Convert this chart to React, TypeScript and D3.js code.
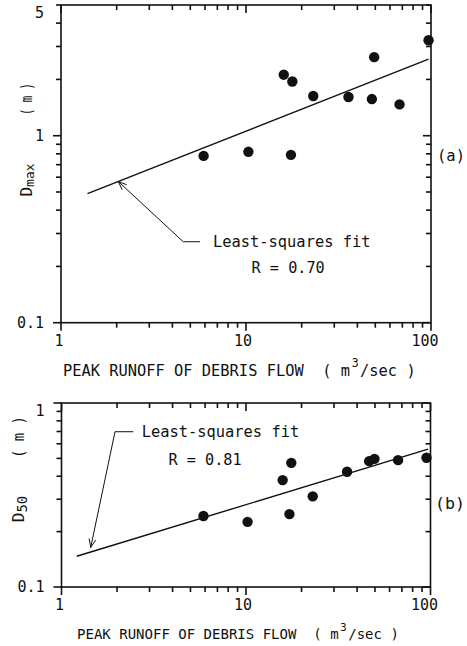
import React from 'react';
import * as d3 from 'd3';

// ---- data ----
const flowA = [5.9, 10.3, 16.0, 17.8, 17.5, 23.1, 35.8, 49.3, 47.9, 67.6, 97];
const dmax = [0.78, 0.82, 2.12, 1.95, 0.79, 1.63, 1.61, 2.63, 1.57, 1.47, 3.24];
const flowB = [5.88, 10.2, 15.8, 17.6, 17.2, 23.0, 35.3, 46.5, 49.7, 66.7, 95.1];
const d50 = [0.243, 0.226, 0.381, 0.473, 0.249, 0.311, 0.423, 0.483, 0.497, 0.489, 0.504];

const fitAx = [1.39, 97];
const fitAy = [0.49, 2.57];
const fitBx = [1.21, 97];
const fitBy = [0.147, 0.561];

const xTickVals = [1, 10, 100];
const xTickLabels = ['1', '10', '100'];
const yTickValsA = [0.1, 1, 5];
const yTickLabelsA = ['0.1', '1', '5'];
const yTickValsB = [0.1, 1];
const yTickLabelsB = ['0.1', '1'];

const titleMain = 'PEAK RUNOFF OF DEBRIS FLOW  ( m';
const titleSup = '3';
const titleTail = '/sec )';

const FONT = '"DejaVu Sans Mono", "Liberation Mono", monospace';
const ADV = 0.602; // DejaVu Sans Mono advance width per em
const INK = '#111';

type Ann = {
  head: [number, number];
  elbow: [number, number];
  end: [number, number];
  text: [number, number];
  r: [number, number];
  rText: string;
};

type PanelProps = {
  xs: d3.ScaleLogarithmic<number, number>;
  ys: d3.ScaleLogarithmic<number, number>;
  xv: number[];
  yv: number[];
  fx: number[];
  fy: number[];
  ann: Ann;
  yTicks: number[];
  yTickLabels: string[];
  xLabelY: number;
  titleY: number;
  titleX: number;
  titleW: number;
  tag: string;
  tagX: number;
  tagY: number;
  tagW: number;
  ylab: React.ReactNode;
};

function Panel(p: PanelProps) {
  const { xs, ys } = p;
  const [x0, x1] = xs.range();
  const [y0, y1] = ys.range(); // y0 bottom, y1 top
  const xt = xs.ticks();
  const yt = ys.ticks();
  const isMajor = (v: number) => Math.abs(Math.log10(v) - Math.round(Math.log10(v))) < 1e-6;
  const line = d3.line<number>().x((_, i) => xs(p.fx[i])).y((_, i) => ys(p.fy[i]));

  const hx = xs(p.ann.head[0]), hy = ys(p.ann.head[1]);
  const ex = xs(p.ann.elbow[0]), ey = ys(p.ann.elbow[1]);
  const nx = xs(p.ann.end[0]), ny = ys(p.ann.end[1]);
  const ang = Math.atan2(ey - hy, ex - hx);
  const aL = 9, aA = 0.38;
  const a1 = [hx + aL * Math.cos(ang + aA), hy + aL * Math.sin(ang + aA)];
  const a2 = [hx + aL * Math.cos(ang - aA), hy + aL * Math.sin(ang - aA)];

  // title split into three pieces so the superscript sits between them
  const nChars = titleMain.length + titleSup.length + titleTail.length;
  const cw = p.titleW / nChars;
  const fsT = cw / ADV;
  const fsS = fsT * 0.75;
  const gap = 1.5;
  const wMain = titleMain.length * cw;
  const wSup = fsS * ADV;

  return (
    <g>
      {/* frame */}
      <rect x={x0} y={y1} width={x1 - x0} height={y0 - y1} fill="none" stroke={INK} strokeWidth={1.6} />
      {/* x ticks: bottom outward, top inward */}
      {xt.map((v, i) => {
        const L = isMajor(v) ? 8 : 5;
        const x = xs(v);
        return (
          <g key={'xt' + i}>
            <line x1={x} x2={x} y1={y0} y2={y0 + L} stroke={INK} strokeWidth={1.6} />
            <line x1={x} x2={x} y1={y1} y2={y1 + L} stroke={INK} strokeWidth={1.6} />
          </g>
        );
      })}
      {/* y ticks: left outward, right inward */}
      {yt.map((v, i) => {
        const L = isMajor(v) ? 8 : 5;
        const y = ys(v);
        return (
          <g key={'yt' + i}>
            <line x1={x0 - L} x2={x0} y1={y} y2={y} stroke={INK} strokeWidth={1.6} />
            <line x1={x1 - L} x2={x1} y1={y} y2={y} stroke={INK} strokeWidth={1.6} />
          </g>
        );
      })}
      {/* y tick labels */}
      {p.yTicks.map((v, i) => (
        <text key={'yl' + i} x={x0 - 17} y={Math.max(ys(v), y1 + 8)} dy="0.36em" textAnchor="end"
          fontFamily={FONT} fontSize={15} fill={INK}>{p.yTickLabels[i]}</text>
      ))}
      {/* x tick labels */}
      {xTickVals.map((v, i) => (
        <text key={'xl' + i} x={xs(v) - (i === 0 ? 2 : i === 2 ? 6 : 3)} y={p.xLabelY} dy="0.36em" textAnchor="middle"
          fontFamily={FONT} fontSize={15} fill={INK}>{xTickLabels[i]}</text>
      ))}
      {/* x title */}
      <text x={p.titleX} y={p.titleY} dy="0.36em" fontFamily={FONT} fontSize={fsT} fill={INK}
        style={{ whiteSpace: 'pre' }}>{titleMain}</text>
      <text x={p.titleX + wMain + gap} y={p.titleY - 7} dy="0.36em" fontFamily={FONT} fontSize={fsS} fill={INK}>{titleSup}</text>
      <text x={p.titleX + wMain + wSup + 2 * gap} y={p.titleY} dy="0.36em" fontFamily={FONT} fontSize={fsT} fill={INK}
        style={{ whiteSpace: 'pre' }}>{titleTail}</text>
      {/* y title */}
      {p.ylab}
      {/* fit line */}
      <path d={line(p.fx) || ''} fill="none" stroke={INK} strokeWidth={1.4} />
      {/* points */}
      {p.xv.map((v, i) => (
        <circle key={'pt' + i} cx={xs(v)} cy={ys(p.yv[i])} r={5.2} fill={INK} />
      ))}
      {/* annotation */}
      <polyline points={`${hx},${hy} ${ex},${ey} ${nx},${ny}`} fill="none" stroke={INK} strokeWidth={1} />
      <polyline points={`${a1[0]},${a1[1]} ${hx},${hy} ${a2[0]},${a2[1]}`} fill="none" stroke={INK} strokeWidth={1} />
      <text x={xs(p.ann.text[0])} y={ys(p.ann.text[1])} dy="0.36em" fontFamily={FONT} fontSize={15.4} fill={INK}>Least-squares fit</text>
      <text x={xs(p.ann.r[0])} y={ys(p.ann.r[1])} dy="0.36em" textAnchor="middle" fontFamily={FONT} fontSize={15.2} fill={INK}
        style={{ whiteSpace: 'pre' }}>{p.ann.rText}</text>
      {/* panel tag */}
      <text x={p.tagX} y={p.tagY} dy="0.36em" fontFamily={FONT} fontSize={p.tagW / 3 / ADV} fill={INK}>({p.tag})</text>
    </g>
  );
}

export default function App() {
  const xsA = d3.scaleLog().domain([1, 100]).range([61, 431]);
  const ysA = d3.scaleLog().domain([0.1, 5]).range([322.7, 5]);
  const xsB = d3.scaleLog().domain([1, 100]).range([61.5, 430.5]);
  const ysB = d3.scaleLog().domain([0.1, 1]).range([587, 403]);

  const annA: Ann = {
    head: [2.04, 0.569],
    elbow: [4.58, 0.271],
    end: [5.64, 0.271],
    text: [6.63, 0.271],
    r: [16.9, 0.198],
    rText: 'R = 0.70',
  };
  const annB: Ann = {
    head: [1.44, 0.164],
    elbow: [1.95, 0.698],
    end: [2.45, 0.698],
    text: [2.72, 0.698],
    r: [6.0, 0.49],
    rText: 'R = 0.81',
  };

  const ylabA = (
    <g>
      <text transform="translate(32,180) rotate(-90)" textAnchor="middle" fontFamily={FONT} fontSize={16} fill={INK}>
        D<tspan fontSize={13} dy={2}>max</tspan>
      </text>
      <text transform="translate(32,99) rotate(-90)" textAnchor="middle" fontFamily={FONT} fontSize={16} fill={INK}
        textLength={32} lengthAdjust="spacingAndGlyphs" style={{ whiteSpace: 'pre' }}>( m )</text>
    </g>
  );
  const ylabB = (
    <g>
      <text transform="translate(24,509) rotate(-90)" textAnchor="middle" fontFamily={FONT} fontSize={16} fill={INK}>
        D<tspan fontSize={14} dy={3}>50</tspan>
      </text>
      <text transform="translate(24,437) rotate(-90)" textAnchor="middle" fontFamily={FONT} fontSize={16} fill={INK}
        textLength={42} lengthAdjust="spacingAndGlyphs" style={{ whiteSpace: 'pre' }}>( m )</text>
    </g>
  );

  return (
    <svg width={467} height={646} style={{ position: 'absolute', left: 0, top: 0, background: '#fff' }}>
      <rect width={467} height={646} fill="#fff" />
      <Panel xs={xsA} ys={ysA} xv={flowA} yv={dmax} fx={fitAx} fy={fitAy} ann={annA}
        yTicks={yTickValsA} yTickLabels={yTickLabelsA} xLabelY={341} titleY={370} titleX={63} titleW={352}
        tag="a" tagX={437} tagY={155} tagW={28} ylab={ylabA} />
      <Panel xs={xsB} ys={ysB} xv={flowB} yv={d50} fx={fitBx} fy={fitBy} ann={annB}
        yTicks={yTickValsB} yTickLabels={yTickLabelsB} xLabelY={605} titleY={634} titleX={77} titleW={321}
        tag="b" tagX={435} tagY={503} tagW={30} ylab={ylabB} />
    </svg>
  );
}
